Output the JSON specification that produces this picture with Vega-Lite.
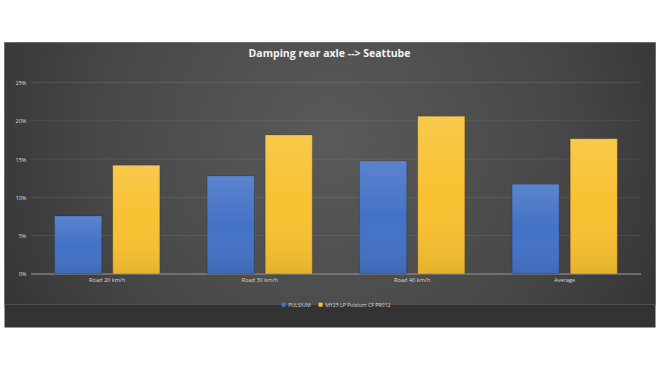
{
  "$schema": "https://vega.github.io/schema/vega-lite/v6.json",
  "autosize": {"type": "none"},
  "padding": {"left": 4, "top": 42, "right": 5, "bottom": 66},
  "width": 651,
  "height": 262,
  "background": "#ffffff",
  "title": {
    "text": "Damping rear axle --> Seattube",
    "font": "Open Sans",
    "fontSize": 10.5,
    "fontWeight": "bold",
    "color": "#f2f2f2",
    "anchor": "middle",
    "frame": "group",
    "offset": -17
  },
  "config": {
    "view": {
      "fill": {
        "gradient": "radial",
        "x1": 0.5, "y1": 0.45, "r1": 0,
        "x2": 0.5, "y2": 0.45, "r2": 0.72,
        "stops": [
          {"offset": 0, "color": "#5a5a5a"},
          {"offset": 0.5, "color": "#474747"},
          {"offset": 1, "color": "#262626"}
        ]
      },
      "stroke": "#6e6e6e",
      "strokeWidth": 1
    },
    "font": "Open Sans"
  },
  "datasets": {
    "bars": [
      {"cat": "Road 20 km/h", "series": "PULSIUM", "v": 0.0757},
      {"cat": "Road 20 km/h", "series": "MY25 LP Pulsium CF PR012", "v": 0.142},
      {"cat": "Road 30 km/h", "series": "PULSIUM", "v": 0.128},
      {"cat": "Road 30 km/h", "series": "MY25 LP Pulsium CF PR012", "v": 0.1815},
      {"cat": "Road 40 km/h", "series": "PULSIUM", "v": 0.1475},
      {"cat": "Road 40 km/h", "series": "MY25 LP Pulsium CF PR012", "v": 0.206},
      {"cat": "Average", "series": "PULSIUM", "v": 0.117},
      {"cat": "Average", "series": "MY25 LP Pulsium CF PR012", "v": 0.1765}
    ]
  },
  "layer": [
    {
      "data": {"values": [{"v": 0.05}, {"v": 0.1}, {"v": 0.15}, {"v": 0.2}, {"v": 0.25}]},
      "mark": {"type": "rule", "color": "#ffffff", "opacity": 0.09, "strokeWidth": 1},
      "encoding": {
        "y": {"field": "v", "type": "quantitative", "scale": {"domain": [-0.0392, 0.3029]}},
        "x": {"datum": "Road 20 km/h", "type": "nominal", "bandPosition": -0.2246},
        "x2": {"datum": "Average", "bandPosition": 1.2254}
      }
    },
    {
      "data": {"values": [{"v": 0}]},
      "mark": {"type": "rule", "color": "#7f7f7f", "strokeWidth": 1.5},
      "encoding": {
        "y": {"field": "v", "type": "quantitative", "scale": {"domain": [-0.0392, 0.3029]}},
        "x": {"datum": "Road 20 km/h", "type": "nominal", "bandPosition": -0.2246},
        "x2": {"datum": "Average", "bandPosition": 1.2254}
      }
    },
    {
      "data": {"name": "bars"},
      "mark": {"type": "bar", "stroke": "#000000", "strokeOpacity": 0.25, "strokeWidth": 0.7},
      "encoding": {
        "x": {
          "field": "cat",
          "type": "nominal",
          "scale": {
            "domain": ["Road 20 km/h", "Road 30 km/h", "Road 40 km/h", "Average"],
            "paddingInner": 0.31, "paddingOuter": 0.28943, "align": 0.5732
          },
          "axis": {
            "orient": "bottom",
            "title": null,
            "bandPosition": 0.5,
            "offset": 11.5,
            "domainWidth": 23,
            "domainColor": "#333333",
            "domainCap": "butt",
            "ticks": false,
            "grid": false,
            "labelPadding": -36.5,
            "labelAngle": 0,
            "labelAlign": "center",
            "labelFontSize": 5.6,
            "labelColor": "#d9d9d9",
            "labelFont": "Open Sans"
          }
        },
        "xOffset": {
          "field": "series",
          "type": "nominal",
          "sort": ["PULSIUM", "MY25 LP Pulsium CF PR012"],
          "scale": {"paddingInner": 0.19, "paddingOuter": 0}
        },
        "y": {
          "field": "v",
          "type": "quantitative",
          "scale": {"domain": [-0.0392, 0.3029]},
          "axis": {
            "values": [0, 0.05, 0.1, 0.15, 0.2, 0.25],
            "format": ".0%",
            "grid": false,
            "domain": false,
            "ticks": false,
            "offset": -27,
            "labelPadding": 5,
            "labelFontSize": 5.6,
            "labelColor": "#d9d9d9",
            "title": null
          }
        },
        "y2": {"datum": 0},
        "color": {
          "field": "series",
          "type": "nominal",
          "sort": ["PULSIUM", "MY25 LP Pulsium CF PR012"],
          "scale": {
            "domain": ["PULSIUM", "MY25 LP Pulsium CF PR012"],
            "range": ["#4372c6", "#f8c131"]
          },
          "legend": {
            "orient": "none",
            "legendX": 277,
            "legendY": 260,
            "direction": "horizontal",
            "title": null,
            "symbolType": "square",
            "symbolSize": 16,
            "symbolStrokeWidth": 0,
            "labelFontSize": 5.2,
            "labelColor": "#d9d9d9",
            "labelOffset": 2,
            "columnPadding": 7
          }
        }
      }
    },
    {
      "data": {"name": "bars"},
      "mark": {
        "type": "bar",
        "fill": {
          "gradient": "linear", "x1": 0, "y1": 0, "x2": 0, "y2": 1,
          "stops": [
            {"offset": 0, "color": "rgba(255,255,255,0.13)"},
            {"offset": 0.5, "color": "rgba(255,255,255,0)"},
            {"offset": 1, "color": "rgba(0,0,0,0.08)"}
          ]
        }
      },
      "encoding": {
        "x": {"field": "cat", "type": "nominal"},
        "xOffset": {"field": "series", "type": "nominal", "sort": ["PULSIUM", "MY25 LP Pulsium CF PR012"]},
        "y": {"field": "v", "type": "quantitative", "scale": {"domain": [-0.0392, 0.3029]}},
        "y2": {"datum": 0}
      }
    }
  ]
}
